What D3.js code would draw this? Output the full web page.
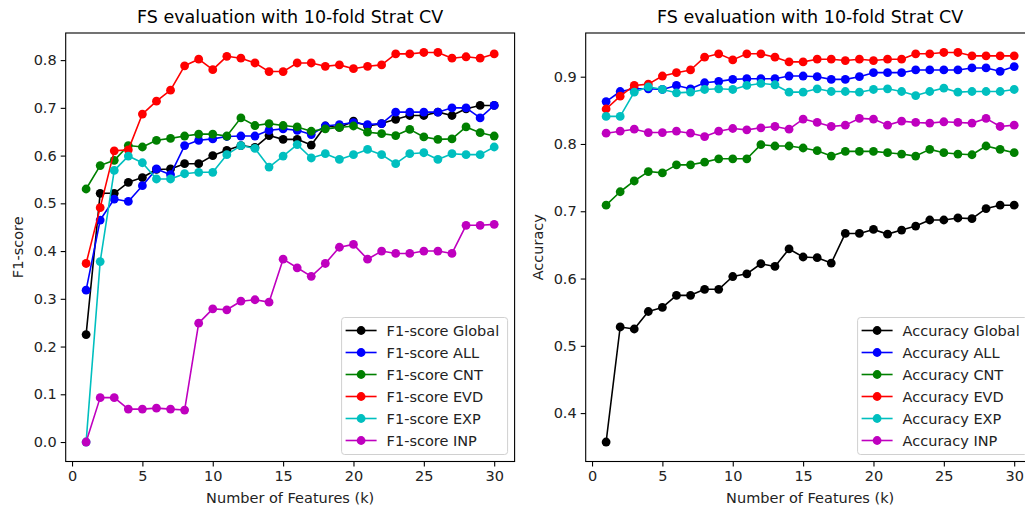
<!DOCTYPE html>
<html><head><meta charset="utf-8">
<script src="https://cdn.jsdelivr.net/npm/d3@7"></script>
<style>body{margin:0;background:#fff}svg{display:block}text{font-family:"DejaVu Sans",sans-serif}</style>
</head><body><svg id="c" width="1025" height="510"></svg>
<script>
const ks = d3.range(1, 31);
const seriesNames = ["Global", "ALL", "CNT", "EVD", "EXP", "INP"];
const seriesColors = ["#000000", "#0000ff", "#008000", "#ff0000", "#00bfbf", "#bf00bf"];
const xTicks = [0, 5, 10, 15, 20, 25, 30];
const f1Ticks = [0.0, 0.1, 0.2, 0.3, 0.4, 0.5, 0.6, 0.7, 0.8];
const accTicks = [0.4, 0.5, 0.6, 0.7, 0.8, 0.9];

const f1Global = [0.225,0.521,0.521,0.544,0.554,0.571,0.572,0.583,0.583,0.600,0.611,0.621,0.617,0.642,0.634,0.634,0.622,0.662,0.659,0.672,0.662,0.667,0.676,0.684,0.684,0.691,0.684,0.698,0.705,0.705];
const f1All = [0.318,0.465,0.509,0.504,0.537,0.572,0.560,0.621,0.632,0.635,0.640,0.641,0.641,0.653,0.656,0.653,0.644,0.662,0.665,0.669,0.665,0.667,0.691,0.691,0.691,0.691,0.700,0.700,0.679,0.705];
const f1Cnt = [0.530,0.579,0.590,0.621,0.618,0.632,0.636,0.641,0.645,0.645,0.641,0.679,0.663,0.667,0.663,0.660,0.651,0.656,0.659,0.662,0.649,0.646,0.642,0.655,0.639,0.634,0.635,0.660,0.648,0.641];
const f1Evd = [0.374,0.491,0.610,0.612,0.687,0.714,0.737,0.788,0.802,0.780,0.808,0.804,0.794,0.776,0.776,0.794,0.794,0.787,0.790,0.782,0.787,0.790,0.813,0.813,0.816,0.816,0.804,0.807,0.804,0.813];
const f1Exp = [0.000,0.378,0.569,0.599,0.585,0.551,0.551,0.562,0.565,0.565,0.602,0.621,0.615,0.576,0.599,0.623,0.595,0.604,0.592,0.602,0.613,0.602,0.583,0.604,0.606,0.592,0.604,0.602,0.602,0.618];
const f1Inp = [0.000,0.093,0.093,0.069,0.069,0.071,0.069,0.067,0.249,0.279,0.277,0.295,0.298,0.293,0.383,0.365,0.347,0.374,0.408,0.414,0.383,0.400,0.395,0.395,0.400,0.400,0.395,0.454,0.454,0.456];

const accGlobal = [0.357,0.528,0.525,0.551,0.557,0.575,0.575,0.584,0.584,0.603,0.607,0.622,0.618,0.644,0.632,0.631,0.623,0.667,0.667,0.673,0.666,0.672,0.678,0.687,0.687,0.690,0.689,0.704,0.709,0.709];
const accAll = [0.863,0.878,0.882,0.882,0.881,0.887,0.882,0.891,0.893,0.896,0.897,0.897,0.897,0.901,0.901,0.900,0.896,0.896,0.900,0.906,0.906,0.906,0.910,0.910,0.910,0.910,0.913,0.913,0.908,0.915];
const accCnt = [0.709,0.729,0.745,0.759,0.757,0.769,0.769,0.773,0.778,0.778,0.778,0.799,0.797,0.797,0.794,0.790,0.782,0.789,0.789,0.789,0.787,0.785,0.782,0.792,0.787,0.785,0.784,0.797,0.792,0.787];
const accEvd = [0.852,0.871,0.887,0.889,0.901,0.906,0.910,0.929,0.934,0.925,0.934,0.934,0.929,0.922,0.922,0.926,0.926,0.924,0.926,0.924,0.926,0.926,0.934,0.934,0.936,0.936,0.931,0.931,0.931,0.931];
const accExp = [0.841,0.841,0.877,0.885,0.881,0.876,0.877,0.881,0.882,0.881,0.887,0.890,0.888,0.877,0.877,0.882,0.878,0.878,0.877,0.881,0.882,0.878,0.872,0.878,0.883,0.877,0.878,0.878,0.878,0.881];
const accInp = [0.816,0.819,0.822,0.817,0.817,0.819,0.816,0.811,0.819,0.823,0.821,0.824,0.826,0.822,0.837,0.832,0.826,0.828,0.838,0.837,0.828,0.834,0.832,0.831,0.833,0.832,0.831,0.838,0.826,0.828];

const svg = d3.select("#c");
const FS = 14.5, TFS = 17.5;

function panel(cfg) {
  const {x0, x1, y0, y1, series, prefix, yTicks, ylabel} = cfg;
  const all = series.flat();
  const mn = d3.min(all), mx = d3.max(all), pad = (mx - mn) * 0.05;
  const x = d3.scaleLinear().domain([1 - 29 * 0.05, 30 + 29 * 0.05]).range([x0, x1]);
  const y = d3.scaleLinear().domain([mn - pad, mx + pad]).range([y1, y0]);
  const g = svg.append("g");
  const clipId = "clip" + Math.round(x0);
  svg.append("clipPath").attr("id", clipId).append("rect")
    .attr("x", x0).attr("y", y0).attr("width", x1 - x0).attr("height", y1 - y0);

  const plot = g.append("g").attr("clip-path", `url(#${clipId})`);
  const line = d3.line().x((d, i) => x(ks[i])).y(d => y(d));
  series.forEach((vals, si) => {
    const sg = plot.append("g");
    sg.append("path").datum(vals).attr("d", line).attr("fill", "none")
      .attr("stroke", seriesColors[si]).attr("stroke-width", 1.6).attr("stroke-linejoin", "round");
    sg.selectAll("circle").data(vals).join("circle")
      .attr("cx", (d, i) => x(ks[i])).attr("cy", d => y(d)).attr("r", 4.4)
      .attr("fill", seriesColors[si]);
  });

  g.append("rect").attr("x", x0).attr("y", y0).attr("width", x1 - x0).attr("height", y1 - y0)
    .attr("fill", "none").attr("stroke", "#000").attr("stroke-width", 1.1);

  const xa = g.append("g").attr("transform", `translate(0,${y1})`)
    .call(d3.axisBottom(x).tickValues(xTicks).tickFormat(d3.format("d")).tickSizeOuter(0).tickSize(5).tickPadding(4));
  const ya = g.append("g").attr("transform", `translate(${x0},0)`)
    .call(d3.axisLeft(y).tickValues(yTicks).tickFormat(d3.format(".1f")).tickSizeOuter(0).tickSize(5).tickPadding(4));
  [xa, ya].forEach(a => {
    a.select(".domain").remove();
    a.selectAll("line").attr("stroke", "#000").attr("stroke-width", 1.1);
    a.selectAll("text").attr("font-size", FS).attr("fill", "#222").style("font-family", "DejaVu Sans");
  });

  const cx = (x0 + x1) / 2;
  g.append("text").attr("x", cx).attr("y", y0 - 10).attr("text-anchor", "middle")
    .attr("font-size", TFS).attr("fill", "#000").text("FS evaluation with 10-fold Strat CV");
  g.append("text").attr("x", cx).attr("y", 503).attr("text-anchor", "middle")
    .attr("font-size", FS).attr("fill", "#222").text("Number of Features (k)");
  g.append("text").attr("transform", `translate(${x0 - 43},${(y0 + y1) / 2}) rotate(-90)`)
    .attr("text-anchor", "middle").attr("font-size", FS).attr("fill", "#222").text(ylabel);

  const lw = cfg.legendW, lh = 137;
  const lx = x1 - 7 - lw, ly = y1 - 7 - lh;
  const lg = g.append("g");
  lg.append("rect").attr("x", lx).attr("y", ly).attr("width", lw).attr("height", lh)
    .attr("rx", 3).attr("fill", "#fff").attr("fill-opacity", 0.8)
    .attr("stroke", "#d0d0d0").attr("stroke-width", 1);
  seriesNames.forEach((n, i) => {
    const yy = ly + 13 + i * 22;
    lg.append("line").attr("x1", lx + 4).attr("x2", lx + 35).attr("y1", yy).attr("y2", yy)
      .attr("stroke", seriesColors[i]).attr("stroke-width", 1.6);
    lg.append("circle").attr("cx", lx + 19.5).attr("cy", yy).attr("r", 4.4).attr("fill", seriesColors[i]);
    lg.append("text").attr("x", lx + 45).attr("y", yy).attr("dy", "0.35em")
      .attr("font-size", FS).attr("fill", "#222").text(prefix + " " + n);
  });
}

panel({x0: 65.7, x1: 514.6, y0: 33, y1: 461.5,
  series: [f1Global, f1All, f1Cnt, f1Evd, f1Exp, f1Inp], prefix: "F1-score",
  yTicks: f1Ticks, ylabel: "F1-score", legendW: 166});
panel({x0: 585.7, x1: 1034.6, y0: 33, y1: 461.5,
  series: [accGlobal, accAll, accCnt, accEvd, accExp, accInp], prefix: "Accuracy",
  yTicks: accTicks, ylabel: "Accuracy", legendW: 170});
</script></body></html>
